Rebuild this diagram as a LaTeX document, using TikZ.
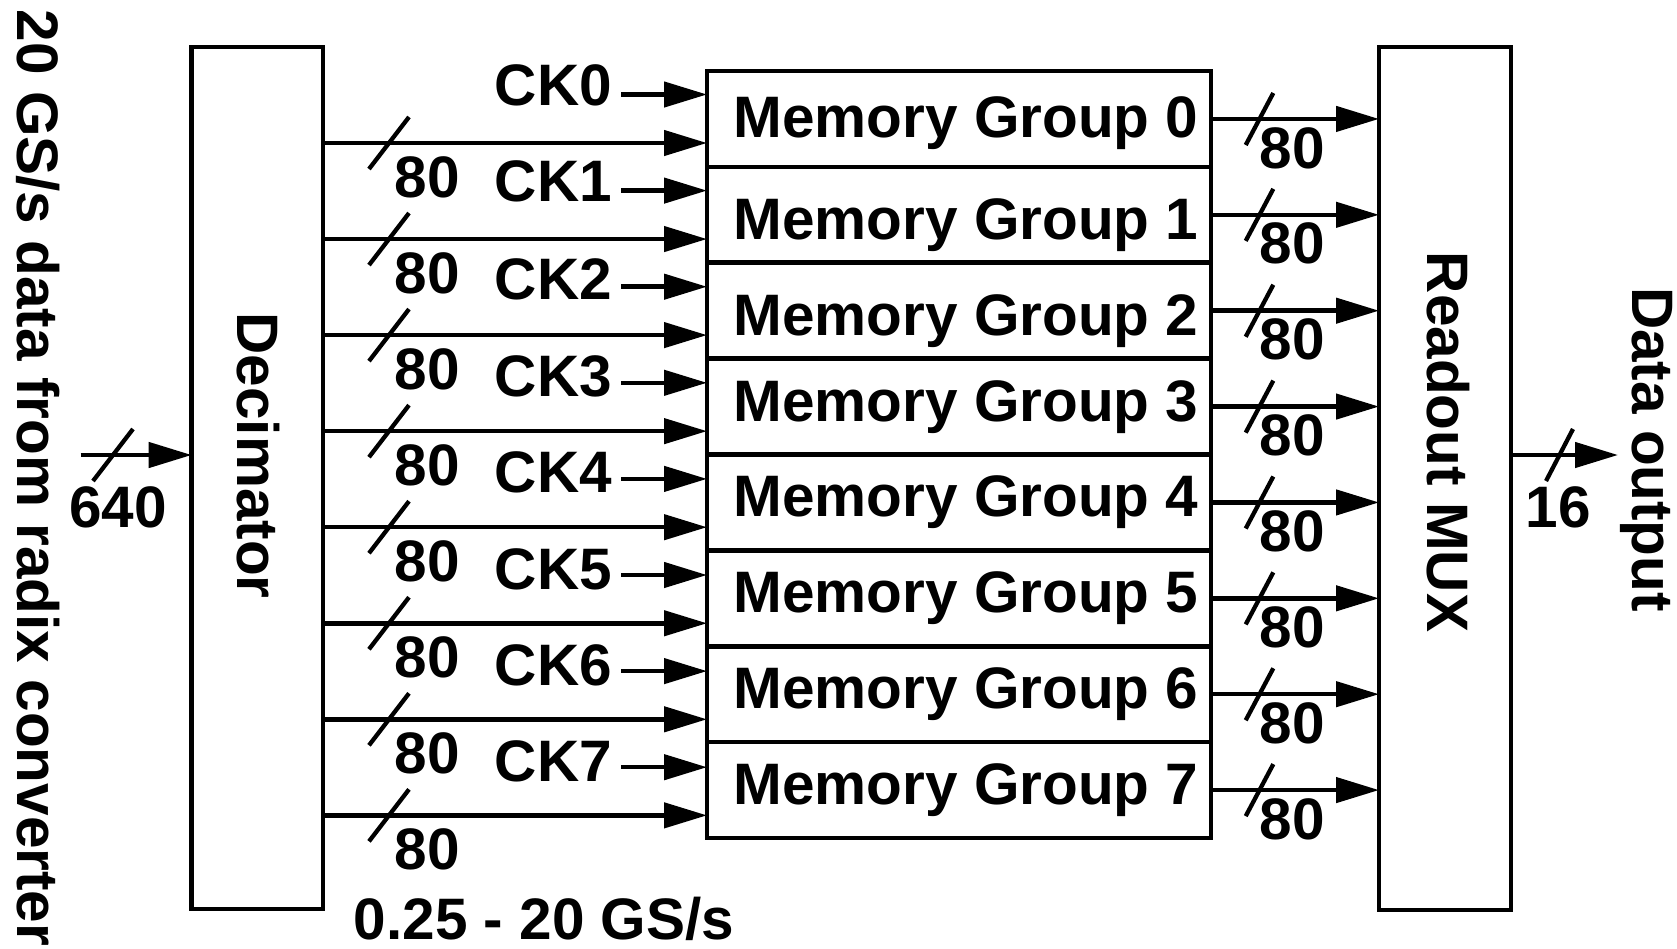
\documentclass[tikz,border=0pt]{standalone}
\usepackage{fontspec}
\setmainfont{Liberation Sans}
\usetikzlibrary{arrows.meta}
\begin{document}
\begin{tikzpicture}[x=1pt,y=-1pt,
  wire/.style={line width=4.5pt,-{Triangle[length=43pt,width=25pt]}},
  block/.style={draw,line width=4.6pt,outer sep=0pt,inner sep=0pt},
  lbl/.style={inner sep=0pt,outer sep=0pt,font=\fontsize{58.5}{60}\selectfont\bfseries},
  busmark/.style={line width=4.3pt}]
\useasboundingbox (0,0) rectangle (1677,948);

% main blocks
\node[block,minimum width=131.3pt,minimum height=862pt,anchor=north west] (dec) at (191.7,47) {};
\node[block,minimum width=132pt,minimum height=863pt,anchor=north west] (mux) at (1379,47) {};
\foreach \i/\d in {0/0,1/7,2/7,3/-3,4/-4,5/-4,6/-4,7/-4}{
  \node[block,minimum width=504pt,minimum height=95.875pt,anchor=north west] (mg\i) at (707,{71+95.875*\i}) {};
  \node[lbl,anchor=base] (mgt\i) at (966,{137+95.875*\i+\d}) {Memory Group \i};
}

% rotated titles
\node[lbl,rotate=-90,anchor=base] (src) at (17,478) {20 GS/s data from radix converter};
\node[lbl,rotate=-90,anchor=base] (dect) at (237,455.5) {Decimator};
\node[lbl,rotate=-90,anchor=base] (muxt) at (1427,442) {Readout MUX};
\node[lbl,rotate=-90,anchor=base] (outt) at (1632,449.5) {Data output};
\node[lbl,anchor=base] (rate) at (544,939) {0.25 - 20 GS/s};

% input bus
\coordinate (in) at (80.7,455);
\draw[wire] (in) -- (in -| dec.west);
\draw[busmark] (93,481) -- (133,429);
\node[lbl,anchor=base] (inw) at (118,527) {640};

% output bus
\coordinate (out) at (1618,455);
\draw[wire] (mux.east |- out) -- (out);
\draw[busmark] (1546,481) -- (1573,429);
\node[lbl,anchor=base] (outw) at (1558,527) {16};

\foreach \i/\c in {0/-3,1/-3,2/-1,3/0,4/0,5/0,6/0,7/0}{
  % decimator to memory group
  \coordinate (dout\i) at (323,{143+96.05*\i});
  \draw[wire] (dout\i) -- (dout\i -| mg\i.west);
  \draw[busmark] (369,{143+96.05*\i+26}) -- (409,{143+96.05*\i-26});
  \node[lbl,anchor=base] (dw\i) at (427.5,{143+96.05*\i+54}) {80};
  % clocks
  \node[lbl,anchor=base east] (ck\i) at (612,{94.5+96.1*\i+14+\c}) {CK\i};
  \coordinate (cks\i) at (621,{94.5+96.1*\i});
  \draw[wire] (cks\i) -- (cks\i -| mg\i.west);
  % memory group to readout mux
  \draw[wire] (mg\i.east) -- (mg\i.east -| mux.west);
  \draw[busmark] (1245.7,{119+95.875*\i+26}) -- (1273.3,{119+95.875*\i-26});
  \node[lbl,anchor=base] (mw\i) at (1292,{119+95.875*\i+49}) {80};
}
\end{tikzpicture}
\end{document}
